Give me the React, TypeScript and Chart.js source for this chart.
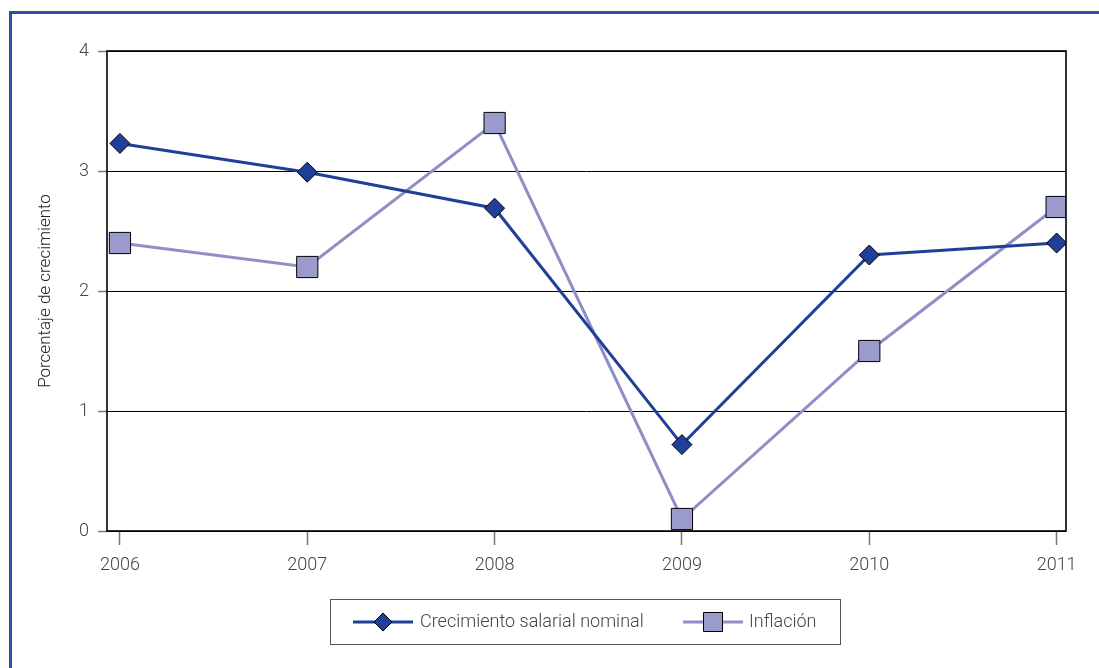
import React, { useEffect, useRef } from "react";
import { Chart, registerables } from "chart.js";

Chart.register(...registerables);

const years = [2006, 2007, 2008, 2009, 2010, 2011];
const salarial = [3.23, 2.99, 2.69, 0.72, 2.3, 2.4];
const inflacion = [2.4, 2.2, 3.4, 0.1, 1.5, 2.7];
const seriesLabels = ["Crecimiento salarial nominal", "Inflación"];
const yTicks = [0, 1, 2, 3, 4];
const yTitle = "Porcentaje de crecimiento";

const DARK = "#1f3f98";
const LIGHT = "#8f8fc8";
const LIGHT_FILL = "#9a9acc";
const FONT = "Roboto, 'Liberation Sans', sans-serif";

const framePlugin = {
  id: "framePlugin",
  beforeDraw(chart: any) {
    const ctx = chart.ctx;
    ctx.save();
    ctx.fillStyle = "#ffffff";
    ctx.fillRect(0, 0, chart.width, chart.height);
    ctx.fillStyle = "#2f4da5";
    ctx.fillRect(9, 11, 3, chart.height);
    ctx.fillRect(9, 11, chart.width, 3);
    ctx.restore();
  },
  afterDraw(chart: any) {
    const ctx = chart.ctx;
    const a = chart.chartArea;
    ctx.save();
    ctx.strokeStyle = "#000";
    ctx.lineWidth = 1.6;
    ctx.strokeRect(a.left, a.top, a.right - a.left, a.bottom - a.top);

    // legend
    const bx = 330, by = 599.5, bw = 510, bh = 45;
    ctx.lineWidth = 1;
    ctx.strokeStyle = "#555";
    ctx.strokeRect(bx + 0.5, by, bw, bh);
    const cy = by + bh / 2;
    const items = [
      { x0: 353, x1: 413, tx: 420, color: DARK, fill: DARK, style: "diamond" },
      { x0: 683, x1: 743, tx: 749, color: LIGHT, fill: LIGHT_FILL, style: "square" },
    ];
    items.forEach((it, i) => {
      ctx.strokeStyle = it.color;
      ctx.lineWidth = 3;
      ctx.beginPath();
      ctx.moveTo(it.x0, cy);
      ctx.lineTo(it.x1, cy);
      ctx.stroke();
      const mx = (it.x0 + it.x1) / 2;
      ctx.fillStyle = it.fill;
      ctx.strokeStyle = "#000";
      ctx.lineWidth = 1;
      ctx.beginPath();
      if (it.style === "diamond") {
        ctx.moveTo(mx - 9, cy);
        ctx.lineTo(mx, cy - 9);
        ctx.lineTo(mx + 9, cy);
        ctx.lineTo(mx, cy + 9);
        ctx.closePath();
      } else {
        ctx.rect(mx - 9.5, cy - 9.5, 19, 19);
      }
      ctx.fill();
      ctx.stroke();
      ctx.fillStyle = "#444";
      ctx.font = `300 18px ${FONT}`;
      ctx.textBaseline = "middle";
      ctx.textAlign = "left";
      ctx.fillText(seriesLabels[i], it.tx, cy);
    });
    ctx.restore();
  },
};

export default function App() {
  const ref = useRef<HTMLCanvasElement | null>(null);
  useEffect(() => {
    if (!ref.current) return;
    const chart = new Chart(ref.current, {
      type: "line",
      data: {
        datasets: [
          {
            label: seriesLabels[0],
            data: years.map((y, i) => ({ x: y, y: salarial[i] })),
            borderColor: DARK,
            backgroundColor: DARK,
            borderWidth: 3,
            pointStyle: "rectRot",
            pointRadius: 10,
            pointHoverRadius: 10,
            pointBackgroundColor: DARK,
            pointBorderColor: "#000",
            pointBorderWidth: 1,
            tension: 0,
          },
          {
            label: seriesLabels[1],
            data: years.map((y, i) => ({ x: y, y: inflacion[i] })),
            borderColor: LIGHT,
            backgroundColor: LIGHT_FILL,
            borderWidth: 3,
            pointStyle: "rect",
            pointRadius: 15,
            pointHoverRadius: 15,
            pointBackgroundColor: LIGHT_FILL,
            pointBorderColor: "#000",
            pointBorderWidth: 1,
            tension: 0,
          },
        ],
      },
      options: {
        animation: false,
        responsive: false,
        maintainAspectRatio: false,
        layout: { padding: { top: 51, right: 33, bottom: 0, left: 0 } },
        plugins: { legend: { display: false }, tooltip: { enabled: false } },
        scales: {
          x: {
            type: "linear",
            min: 2005.931,
            max: 2011.05,
            afterBuildTicks: (s: any) => {
              s.ticks = years.map((v) => ({ value: v }));
            },
            afterFit: (s: any) => {
              s.height = 137;
            },
            grid: {
              drawOnChartArea: false,
              drawTicks: true,
              tickLength: 14,
              tickColor: "#777",
              tickWidth: 1.5,
            },
            border: { display: false },
            ticks: {
              color: "#444",
              padding: 10,
              maxRotation: 0,
              autoSkip: false,
              font: { family: FONT, size: 18, weight: "300" },
              callback: (v: any) => String(v),
            },
          },
          y: {
            min: 0,
            max: 4,
            afterBuildTicks: (s: any) => {
              s.ticks = yTicks.map((v) => ({ value: v }));
            },
            afterFit: (s: any) => {
              s.width = 107;
            },
            grid: {
              color: "#000",
              lineWidth: 1,
              tickLength: 9,
              tickColor: "#777",
              tickWidth: 1.5,
            },
            border: { display: false },
            ticks: {
              color: "#444",
              padding: 9,
              font: { family: FONT, size: 18, weight: "300" },
              callback: (v: any) => String(v),
            },
            title: {
              display: true,
              text: yTitle,
              color: "#222",
              font: { family: FONT, size: 17, weight: "300" },
              padding: { top: 36, bottom: 0 },
            },
          },
        },
      },
      plugins: [framePlugin],
    });
    return () => chart.destroy();
  }, []);
  return (
    <div style={{ position: "absolute", left: 0, top: 0, width: 1099, height: 668 }}>
      <canvas ref={ref} width={1099} height={668} style={{ width: 1099, height: 668, display: "block" }} />
    </div>
  );
}
